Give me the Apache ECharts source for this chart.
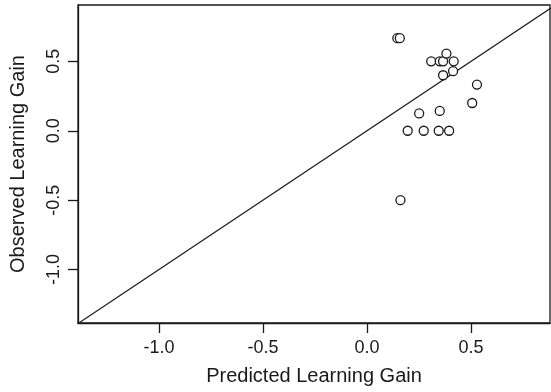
<!DOCTYPE html>
<html>
<head>
<meta charset="utf-8">
<script src="https://cdn.jsdelivr.net/npm/echarts@6/dist/echarts.min.js"></script>
<style>
  html, body { margin: 0; padding: 0; background: #fff; }
  #chart { width: 551px; height: 392px; }
</style>
</head>
<body>
<div id="chart"></div>
<script>
// predicted vs observed learning gain
const predicted = [0.146, 0.158, 0.309, 0.350, 0.366, 0.382, 0.417, 0.366, 0.414, 0.529, 0.506, 0.251, 0.350, 0.196, 0.273, 0.345, 0.395, 0.161];
const observed  = [0.667, 0.667, 0.500, 0.500, 0.500, 0.556, 0.500, 0.400, 0.429, 0.333, 0.200, 0.125, 0.143, 0.000, 0.000, 0.000, 0.000, -0.500];
const xTicks = [-1.0, -0.5, 0.0, 0.5];
const yTicks = [-1.0, -0.5, 0.0, 0.5];
// identity line y = x
const identity = [-1.5, 1.0];

const points = predicted.map((p, i) => [p, observed[i]]);
const font = "'Liberation Sans', Arial, sans-serif";
const ink = "#1a1a1a";

const chart = echarts.init(document.getElementById("chart"));
chart.setOption({
    animation: false,
    grid: {
        left: 77, top: 5, right: 1, bottom: 69,
        show: true,
        borderColor: ink,
        borderWidth: 1.3,
        backgroundColor: "transparent"
    },
    xAxis: {
        type: "value",
        min: -1.389,
        max: 0.880,
        name: "Predicted Learning Gain",
        nameLocation: "middle",
        nameGap: 43,
        nameTextStyle: {color: ink, fontSize: 20, fontFamily: font},
        axisLine: {show: true, onZero: false, lineStyle: {color: ink, width: 1.3}},
        axisTick: {show: true, length: 10, inside: false, customValues: xTicks, lineStyle: {color: ink, width: 1.3}},
        axisLabel: {customValues: xTicks, color: ink, fontSize: 18, fontFamily: font, margin: 16,
            formatter: v => v.toFixed(1)},
        splitLine: {show: false}
    },
    yAxis: {
        type: "value",
        min: -1.385,
        max: 0.906,
        name: "Observed Learning Gain",
        nameLocation: "middle",
        nameGap: 50,
        nameRotate: 90,
        nameTextStyle: {color: ink, fontSize: 20, fontFamily: font},
        axisLine: {show: true, onZero: false, lineStyle: {color: ink, width: 1.3}},
        axisTick: {show: true, length: 10, inside: false, customValues: yTicks, lineStyle: {color: ink, width: 1.3}},
        axisLabel: {customValues: yTicks, color: ink, fontSize: 18, fontFamily: font, margin: 15, rotate: 90,
            formatter: v => v.toFixed(1)},
        splitLine: {show: false}
    },
    series: [
        {
            type: "line",
            data: identity.map(v => [v, v]),
            symbol: "none",
            clip: true,
            lineStyle: {color: ink, width: 1.2},
            silent: true
        },
        {
            type: "scatter",
            data: points,
            symbol: "circle",
            symbolSize: 9,
            itemStyle: {color: "#fff", borderColor: ink, borderWidth: 1.3, opacity: 1},
            z: 3
        }
    ]
});
</script>
</body>
</html>
